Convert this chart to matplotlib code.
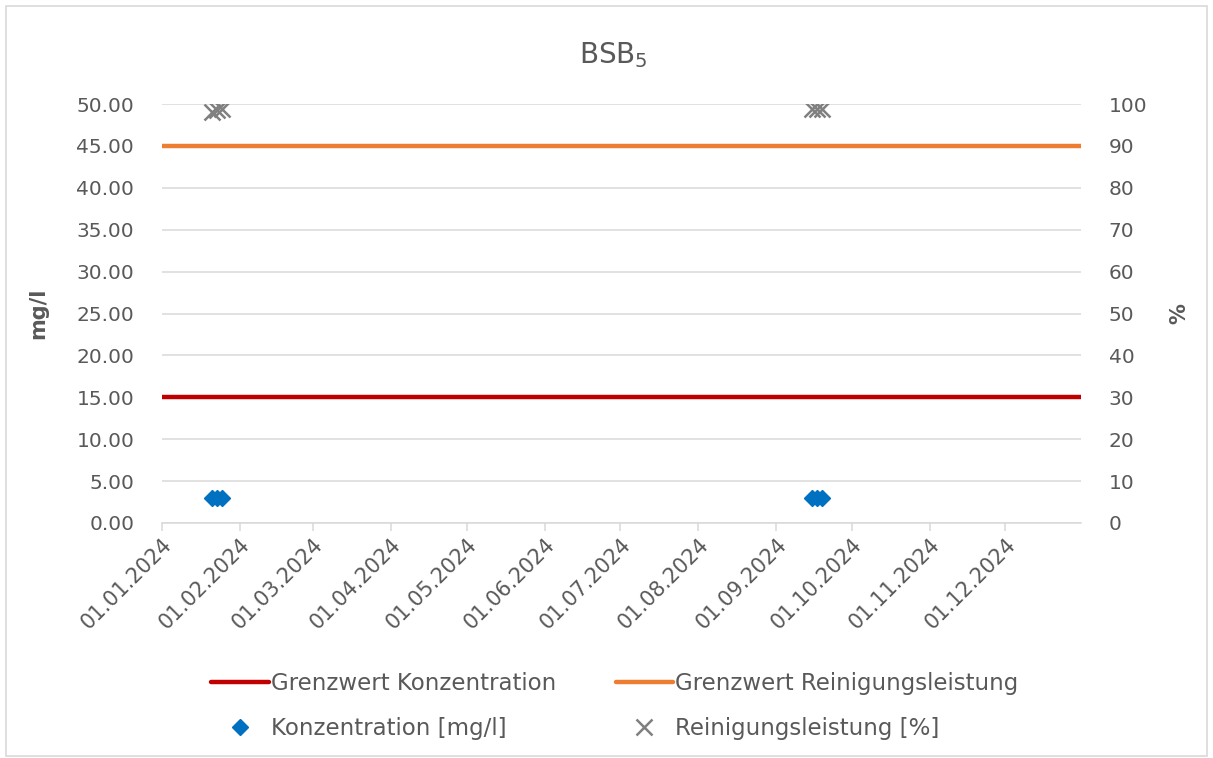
import matplotlib
matplotlib.use("Agg")
import matplotlib.pyplot as plt
import matplotlib.dates as mdates
from matplotlib.patches import Rectangle
from datetime import datetime

# data
sample_dates = ["2024-01-21", "2024-01-23", "2024-01-25",
                "2024-09-15", "2024-09-17", "2024-09-19"]
konzentration = [3.0, 3.0, 3.0, 3.0, 3.0, 3.0]          # mg/l
reinigung = [98.0, 98.6, 98.9, 98.8, 98.8, 98.8]       # %
limit_dates = ["2024-01-01", "2024-12-31"]
grenzwert_konz = [15.0, 15.0]                           # mg/l
grenzwert_rein = [90.0, 90.0]                           # %

x_samples = [datetime.strptime(d, "%Y-%m-%d") for d in sample_dates]
x_limits = [datetime.strptime(d, "%Y-%m-%d") for d in limit_dates]

text_col = "#595959"
grid_col = "#d9d9d9"
plt.rcParams["font.family"] = ["DejaVu Sans"]

W, H = 1213, 758
fig = plt.figure(figsize=(W / 100, H / 100), dpi=100)
ax = fig.add_axes([162 / W, 1 - 523 / H, (1081 - 162) / W, (523 - 104) / H])
ax2 = ax.twinx()

# chart border
fig.patches.append(Rectangle((6 / W, 2 / H), 1201 / W, 750 / H, transform=fig.transFigure,
                             fill=False, edgecolor=grid_col, linewidth=1.2))

ax.set_ylim(0, 50)
ax2.set_ylim(0, 100)
ax.set_xlim(x_limits[0], x_limits[1])
ax.set_yticks(range(0, 51, 5))
ax2.set_yticks(range(0, 101, 10))
ax.yaxis.set_major_formatter(matplotlib.ticker.FormatStrFormatter("%.2f"))

ax.grid(axis="y", color=grid_col, linewidth=1.1)
ax.set_axisbelow(True)
for a in (ax, ax2):
    for s in a.spines.values():
        s.set_visible(False)
ax.spines["bottom"].set_visible(True)
ax.spines["bottom"].set_color(grid_col)
ax.spines["bottom"].set_linewidth(1.1)

ax.xaxis.set_major_locator(mdates.MonthLocator())
ax.xaxis.set_major_formatter(mdates.DateFormatter("%d.%m.%Y"))
ax.tick_params(axis="x", colors=grid_col, length=6, width=1.1, labelcolor=text_col,
               labelsize=15, pad=2)
for lbl in ax.get_xticklabels():
    lbl.set_rotation(45)
    lbl.set_ha("right")
    lbl.set_rotation_mode("anchor")
ax.tick_params(axis="y", length=0, labelsize=14.5, labelcolor=text_col, pad=20)
ax2.tick_params(axis="y", length=0, labelsize=14.5, labelcolor=text_col, pad=20)

red, = ax.plot(x_limits, grenzwert_konz, color="#c00000", linewidth=3.2,
               solid_capstyle="round", label="Grenzwert Konzentration")
dia, = ax.plot(x_samples, konzentration, linestyle="none", marker="D", markersize=8,
               color="#0070c0", label="Konzentration [mg/l]")
orange, = ax2.plot(x_limits, grenzwert_rein, color="#ed7d31", linewidth=3.2,
                   solid_capstyle="round", label="Grenzwert Reinigungsleistung")
cross, = ax2.plot(x_samples, reinigung, linestyle="none", marker="x", markersize=11,
                  markeredgewidth=1.8, color="#808080", label="Reinigungsleistung [%]")

ax.set_ylabel("mg/l", fontsize=15, fontweight="bold", color=text_col, labelpad=20)
ax2.set_ylabel("%", fontsize=15, fontweight="bold", color=text_col, rotation=90, labelpad=16)

fig.text(613 / W, 1 - 55 / H, "BSB$_5$", ha="center", va="center", fontsize=20, color=text_col)

leg = fig.legend([red, dia, orange, cross],
                 [h.get_label() for h in (red, dia, orange, cross)],
                 ncol=2, loc="center", bbox_to_anchor=(615 / W, 1 - 706 / H),
                 frameon=False, fontsize=16.5, handlelength=2.5, handletextpad=0.1,
                 columnspacing=2.6, labelspacing=0.95, labelcolor=text_col)

fig.savefig("out.png", dpi=100)
